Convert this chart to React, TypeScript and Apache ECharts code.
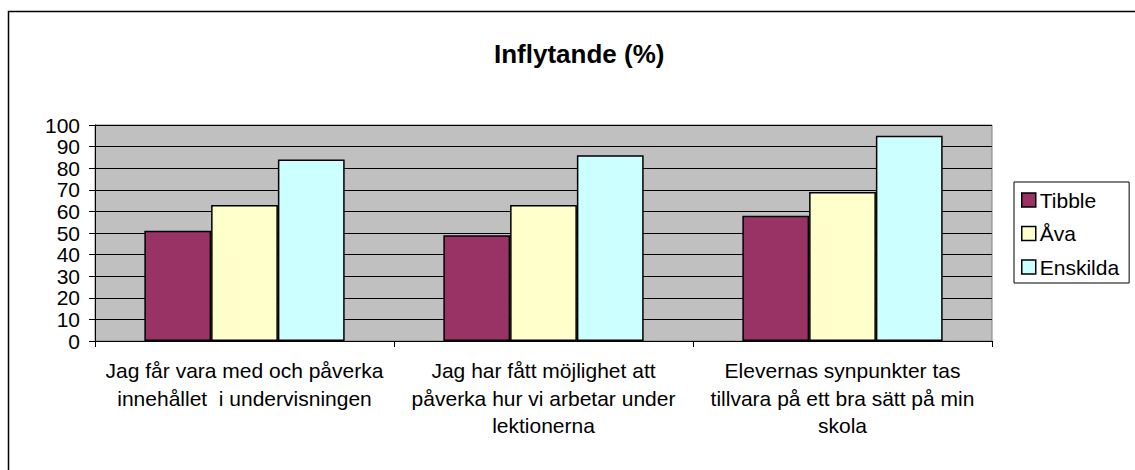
import React, { useEffect, useRef } from "react";
import * as echarts from "echarts";

const titleText = "Inflytande (%)";
const categories = [
  "Jag får vara med och påverka\ninnehållet  i undervisningen",
  "Jag har fått möjlighet att\npåverka hur vi arbetar under\nlektionerna",
  "Elevernas synpunkter tas\ntillvara på ett bra sätt på min\nskola",
];
const seriesNames = ["Tibble", "Åva", "Enskilda"];
const tibble = [51, 49, 58];
const ava = [63, 63, 69];
const enskilda = [84, 86, 95];
const seriesColors = ["#993366", "#FFFFCC", "#CCFFFF"];
const yMin = 0;
const yMax = 100;
const yInterval = 10;

const FONT = "'Liberation Sans', Arial, sans-serif";

export default function App() {
  const ref = useRef<HTMLDivElement>(null);
  useEffect(() => {
    if (!ref.current) return;
    const chart = echarts.init(ref.current, undefined, { renderer: "svg" });
    const values = [tibble, ava, enskilda];
    chart.setOption({
      animation: false,
      backgroundColor: "#ffffff",
      textStyle: { fontFamily: FONT, color: "#000" },
      title: {
        text: titleText,
        left: 494,
        top: 41,
        padding: 0,
        textStyle: { fontFamily: FONT, fontSize: 26, fontWeight: "bold", color: "#000" },
      },
      graphic: [
        {
          type: "rect",
          x: 8.5,
          y: 11.5,
          shape: { x: 0, y: 0, width: 1140, height: 470 },
          style: { fill: "none", stroke: "#000", lineWidth: 1.5 },
          silent: true,
        },
      ],
      legend: {
        orient: "vertical",
        left: 1014,
        top: 182,
        padding: [7, 10, 5, 7],
        itemGap: 11.5,
        itemWidth: 14,
        itemHeight: 14,
        borderColor: "#000",
        borderWidth: 1,
        backgroundColor: "#fff",
        borderRadius: 0,
        icon: "rect",
        itemStyle: { borderColor: "#000", borderWidth: 1.5 },
        textStyle: { fontFamily: FONT, fontSize: 21, color: "#000", lineHeight: 22, padding: [0, 0, 0, -1] },
        data: seriesNames,
      },
      grid: {
        left: 95,
        right: 143,
        top: 125,
        bottom: 129,
        show: true,
        backgroundColor: "#C0C0C0",
        borderColor: "#808080",
        borderWidth: 1,
      },
      xAxis: {
        type: "category",
        data: categories,
        boundaryGap: true,
        axisLine: { lineStyle: { color: "#000", width: 1 } },
        axisTick: { show: true, length: 6, inside: false, lineStyle: { color: "#000" } },
        axisLabel: {
          interval: 0,
          margin: 16,
          fontFamily: FONT,
          fontSize: 21,
          lineHeight: 27.5,
          color: "#000",
          align: "center",
        },
        splitLine: { show: false },
      },
      yAxis: {
        type: "value",
        min: yMin,
        max: yMax,
        interval: yInterval,
        axisLine: { show: true, lineStyle: { color: "#000", width: 1 } },
        axisTick: { show: true, length: 6, lineStyle: { color: "#000" } },
        axisLabel: { fontFamily: FONT, fontSize: 21, color: "#000", margin: 15 },
        splitLine: { show: true, lineStyle: { color: "#000", width: 1 } },
      },
      series: seriesNames.map((name, i) => ({
        name,
        type: "bar",
        data: values[i],
        barGap: "0%",
        barCategoryGap: "33%",
        itemStyle: { color: seriesColors[i], borderColor: "#000", borderWidth: 1.5 },
      })),
    });
    return () => chart.dispose();
  }, []);
  return (
    <div
      ref={ref}
      style={{ position: "fixed", left: 0, top: 0, width: 1135, height: 470 }}
    />
  );
}
